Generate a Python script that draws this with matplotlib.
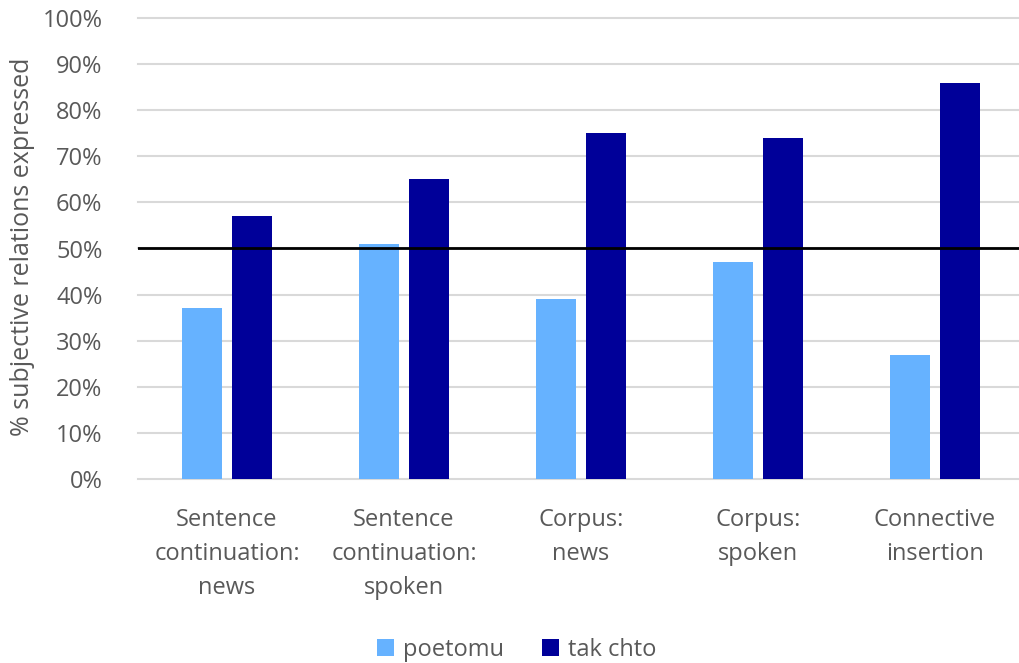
import matplotlib
matplotlib.use("Agg")
import matplotlib.pyplot as plt
import numpy as np
from matplotlib.patches import Patch

categories = [
    "Sentence\ncontinuation:\nnews",
    "Sentence\ncontinuation:\nspoken",
    "Corpus:\nnews",
    "Corpus:\nspoken",
    "Connective\ninsertion",
]
poetomu = [37, 51, 39, 47, 27]
tak_chto = [57, 65, 75, 74, 86]
series_names = ["poetomu", "tak chto"]
yticks = [0, 10, 20, 30, 40, 50, 60, 70, 80, 90, 100]
ytick_labels = [f"{v}%" for v in yticks]
ylabel = "% subjective relations expressed"

LIGHT = "#66B2FF"
DARK = "#000099"
TEXT = "#595959"

plt.rcParams["font.family"] = ["Open Sans", "DejaVu Sans"]

W, H = 1020, 663
fig = plt.figure(figsize=(W / 100, H / 100), dpi=100)
left_px, right_px, bottom_px, top_px = 138.5, 1023.5, 479, 18
ax = fig.add_axes([left_px / W, (H - bottom_px) / H,
                   (right_px - left_px) / W, (bottom_px - top_px) / H])

x = np.arange(len(categories))
bw = 0.226
off = 0.141
ax.bar(x - off, poetomu, bw, color=LIGHT, zorder=3)
ax.bar(x + off, tak_chto, bw, color=DARK, zorder=3)

ax.set_xlim(-0.5, len(categories) - 0.5)
ax.set_ylim(0, 100)
ax.set_yticks(yticks)
ax.set_yticklabels(ytick_labels)
for v in yticks:
    ax.axhline(v, color="#d9d9d9", lw=1.5, zorder=1, clip_on=False)
ax.axhline(50, color="black", lw=2, zorder=4)

for s in ax.spines.values():
    s.set_visible(False)
ax.tick_params(axis="both", length=0, labelsize=17, colors=TEXT)
ax.tick_params(axis="y", pad=26)
ax.tick_params(axis="x", pad=21)
ax.set_xticks(x)
ax.set_xticklabels(categories, linespacing=1.55)

fig.text(23 / W, 1 - 247 / H, ylabel, rotation=90, ha="center", va="center",
         fontsize=18, color=TEXT)

handles = [Patch(facecolor=LIGHT), Patch(facecolor=DARK)]
fig.legend(handles, series_names, loc="center", bbox_to_anchor=(517 / W, 1 - 650 / H),
           ncol=2, frameon=False, fontsize=17, labelcolor=TEXT,
           handlelength=0.7, handleheight=0.7, handletextpad=0.4, columnspacing=1.6)

fig.savefig("out.png", dpi=100)
